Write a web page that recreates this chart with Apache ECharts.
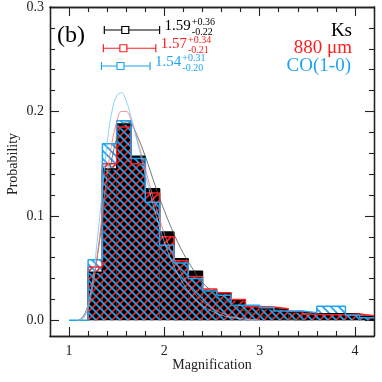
<!DOCTYPE html>
<html>
<head>
<meta charset="utf-8">
<script src="https://cdn.jsdelivr.net/npm/echarts@6/dist/echarts.min.js"></script>
<style>
  html, body { margin: 0; padding: 0; background: #fff; }
  #chart { width: 382px; height: 382px; }
</style>
</head>
<body>
<div id="chart"></div>
<script>
// histogram bins (magnification)
const binEdges = [1.2, 1.35, 1.5, 1.65, 1.8, 1.95, 2.1, 2.25, 2.4, 2.55, 2.7,
  2.85, 3.0, 3.15, 3.3, 3.45, 3.6, 3.75, 3.9, 4.05, 4.2];
const ksProb = [0.046, 0.145, 0.188, 0.157, 0.126, 0.0845, 0.059, 0.047, 0.028, 0.026,
  0.0195, 0.0138, 0.011, 0.0105, 0.008, 0.0064, 0.0064, 0.0064, 0.0064, 0.004];
const mmProb = [0.051, 0.150, 0.185, 0.150, 0.122, 0.080, 0.057, 0.042, 0.030, 0.0265,
  0.020, 0.013, 0.0128, 0.011, 0.0085, 0.0058, 0.0054, 0.0054, 0.006, 0.0045];
const coProb = [0.058, 0.169, 0.191, 0.155, 0.113, 0.072, 0.055, 0.040, 0.028, 0.024,
  0.0144, 0.0144, 0.012, 0.009, 0.0089, 0.0073, 0.0134, 0.0134, 0.0048, 0.0025];
const coZeroFrom = 1.0;

// fitted curves
const ksFit = [[1.1, 0], [1.15, 0.004], [1.2, 0.015], [1.25, 0.035], [1.3, 0.063], [1.35, 0.097],
  [1.4, 0.128], [1.45, 0.155], [1.5, 0.174], [1.55, 0.185], [1.6, 0.19], [1.65, 0.188],
  [1.7, 0.18], [1.8, 0.157], [1.9, 0.13], [2.0, 0.105], [2.1, 0.083], [2.2, 0.064],
  [2.3, 0.049], [2.4, 0.036], [2.5, 0.028], [2.6, 0.021], [2.8, 0.011], [3.0, 0.005], [3.2, 0.002], [3.5, 0]];
const mmFit = [[1.1, 0], [1.15, 0.002], [1.2, 0.012], [1.25, 0.033], [1.3, 0.065], [1.35, 0.103],
  [1.4, 0.14], [1.45, 0.17], [1.5, 0.19], [1.55, 0.2], [1.6, 0.2], [1.65, 0.192],
  [1.7, 0.178], [1.8, 0.145], [1.9, 0.112], [2.0, 0.083], [2.1, 0.06], [2.2, 0.042],
  [2.3, 0.028], [2.4, 0.018], [2.6, 0.007], [2.8, 0.002], [3.0, 0.0005]];
const coFit = [[1.1, 0], [1.15, 0.002], [1.2, 0.015], [1.25, 0.04], [1.3, 0.08], [1.35, 0.125],
  [1.4, 0.17], [1.45, 0.2], [1.5, 0.215], [1.55, 0.218], [1.6, 0.21], [1.65, 0.195],
  [1.7, 0.177], [1.8, 0.14], [1.9, 0.105], [2.0, 0.075], [2.1, 0.052], [2.2, 0.035],
  [2.3, 0.022], [2.4, 0.014], [2.6, 0.005], [2.8, 0.0015], [3.0, 0]];

// median magnification with errors
const medians = [1.59, 1.57, 1.54];
const errPlus = [0.36, 0.34, 0.31];
const errMinus = [0.22, 0.21, 0.20];
const bandNames = ['Ks', '880 μm', 'CO(1-0)'];

const xMajor = [1, 2, 3, 4];
const xMinor = [1.2, 1.4, 1.6, 1.8, 2.2, 2.4, 2.6, 2.8, 3.2, 3.4, 3.6, 3.8, 4.2];
const yMajor = [0, 0.1, 0.2, 0.3];
const yMinor = [0.02, 0.04, 0.06, 0.08, 0.12, 0.14, 0.16, 0.18, 0.22, 0.24, 0.26, 0.28];

const FONT = '"Liberation Serif", "DejaVu Serif", serif';
const RED = '#ff1e1e';
const BLUE = '#1ea4f2';
const colors = ['#000000', RED, BLUE];
const errRowY = [0.278, 0.2605, 0.2435];

function hatch(color, dir) {
  const s = 8;
  const c = document.createElement('canvas');
  c.width = s; c.height = s;
  const g = c.getContext('2d');
  g.strokeStyle = color;
  g.lineWidth = 1.7;
  g.beginPath();
  if (dir > 0) { // "/"
    g.moveTo(-2, s + 2); g.lineTo(s + 2, -2);
    g.moveTo(-2, 2); g.lineTo(2, -2);
    g.moveTo(s - 2, s + 2); g.lineTo(s + 2, s - 2);
  } else { // "\"
    g.moveTo(-2, -2); g.lineTo(s + 2, s + 2);
    g.moveTo(s - 2, -2); g.lineTo(s + 2, 2);
    g.moveTo(-2, s - 2); g.lineTo(2, s + 2);
  }
  g.stroke();
  return { image: c, repeat: 'repeat' };
}

function barData(prob) {
  return prob.map((p, i) => [binEdges[i], binEdges[i + 1], p]);
}
function stepData(prob, from) {
  const d = [];
  if (from !== undefined) d.push([from, 0]);
  d.push([binEdges[0], 0]);
  prob.forEach((p, i) => d.push([binEdges[i], p]));
  d.push([binEdges[binEdges.length - 1], prob[prob.length - 1]]);
  return d;
}

function barSeries(prob, fill) {
  return {
    type: 'custom',
    data: barData(prob),
    silent: true,
    renderItem: function (params, api) {
      const a = api.coord([api.value(0), api.value(2)]);
      const b = api.coord([api.value(1), 0]);
      return {
        type: 'rect',
        shape: { x: a[0], y: a[1], width: b[0] - a[0], height: b[1] - a[1] },
        style: { fill: fill, stroke: null }
      };
    }
  };
}
function outline(prob, color, from) {
  return {
    type: 'line', step: 'end', data: stepData(prob, from), symbol: 'none', silent: true,
    lineStyle: { color: color, width: 1.5 }
  };
}
function fitLine(pts, color) {
  return {
    type: 'line', data: pts, smooth: 0.4, symbol: 'none', silent: true,
    lineStyle: { color: color, width: 0.8 }
  };
}

const measure = document.createElement('canvas').getContext('2d');
function textW(txt, size) {
  measure.font = size + 'px ' + FONT;
  return measure.measureText(txt).width;
}

const errSeries = {
  type: 'custom',
  silent: true,
  data: medians.map((m, i) => [m, m - errMinus[i], m + errPlus[i], errRowY[i], i]),
  renderItem: function (params, api) {
    const i = api.value(4);
    const col = colors[i];
    const y = api.value(3);
    const lo = api.coord([api.value(1), y]);
    const hi = api.coord([api.value(2), y]);
    const mid = api.coord([api.value(0), y]);
    const ls = { stroke: col, lineWidth: 1.2, fill: null };
    const main = medians[i].toFixed(2);
    const tx = hi[0] + 5;
    const mw = textW(main, 15);
    return {
      type: 'group',
      children: [
        { type: 'line', shape: { x1: lo[0], y1: lo[1], x2: hi[0], y2: hi[1] }, style: ls },
        { type: 'line', shape: { x1: lo[0], y1: lo[1] - 4, x2: lo[0], y2: lo[1] + 4 }, style: ls },
        { type: 'line', shape: { x1: hi[0], y1: hi[1] - 4, x2: hi[0], y2: hi[1] + 4 }, style: ls },
        { type: 'rect', shape: { x: mid[0] - 3.5, y: mid[1] - 3.5, width: 7, height: 7 },
          style: { stroke: col, lineWidth: 1.2, fill: '#fff' } },
        { type: 'text', style: { text: main, x: tx, y: mid[1] - 4, fill: col, font: '15px ' + FONT,
          textAlign: 'left', align: 'left', textVerticalAlign: 'middle', verticalAlign: 'middle' } },
        { type: 'text', style: { text: '+' + errPlus[i].toFixed(2), x: tx + mw + 1, y: mid[1] - 7.5, fill: col,
          font: '10px ' + FONT, textAlign: 'left', align: 'left', textVerticalAlign: 'middle', verticalAlign: 'middle' } },
        { type: 'text', style: { text: '-' + errMinus[i].toFixed(2), x: tx + mw + 1, y: mid[1] + 2, fill: col,
          font: '10px ' + FONT, textAlign: 'left', align: 'left', textVerticalAlign: 'middle', verticalAlign: 'middle' } }
      ]
    };
  }
};

function xAxis(pos, ticks, len, labels) {
  return {
    type: 'value', position: pos, min: 0.8, max: 4.2,
    axisLine: { show: true, onZero: false, lineStyle: { color: '#222', width: 1.3 } },
    axisTick: { show: true, inside: true, length: len, customValues: ticks, lineStyle: { color: '#222', width: 1.1 } },
    axisLabel: { show: labels, customValues: ticks, color: '#222', fontSize: 14, fontFamily: FONT, margin: 8 },
    splitLine: { show: false }
  };
}
function yAxis(pos, ticks, len, labels) {
  return {
    type: 'value', position: pos, min: -0.015, max: 0.3,
    axisLine: { show: true, onZero: false, lineStyle: { color: '#222', width: 1.3 } },
    axisTick: { show: true, inside: true, length: len, customValues: ticks, lineStyle: { color: '#222', width: 1.1 } },
    axisLabel: { show: labels, customValues: ticks, color: '#222', fontSize: 14, fontFamily: FONT, margin: 6,
      formatter: v => v.toFixed(1) },
    splitLine: { show: false }
  };
}

function label(text, x, y, size, color, align, rot) {
  return {
    type: 'text', x: x, y: y, rotation: rot || 0,
    style: { text: text, font: size + 'px ' + FONT, fill: color, textAlign: align, align: align,
      textVerticalAlign: 'middle', verticalAlign: 'middle' }
  };
}

const chart = echarts.init(document.getElementById('chart'));
chart.setOption({
  animation: false,
  backgroundColor: '#fff',
  grid: { left: 50, right: 8, top: 7, bottom: 46 },
  xAxis: [
    xAxis('bottom', xMajor, 9, true), xAxis('bottom', xMinor, 5, false),
    xAxis('top', xMajor, 9, false), xAxis('top', xMinor, 5, false)
  ],
  yAxis: [
    yAxis('left', yMajor, 9, true), yAxis('left', yMinor, 5, false),
    yAxis('right', yMajor, 9, false), yAxis('right', yMinor, 5, false)
  ],
  series: [
    barSeries(ksProb, '#000'),
    barSeries(mmProb, hatch(RED, 1)),
    barSeries(coProb, hatch(BLUE, -1)),
    outline(ksProb, '#000'),
    outline(mmProb, RED),
    outline(coProb, BLUE, coZeroFrom),
    fitLine(ksFit, '#555'),
    fitLine(mmFit, '#f47070'),
    fitLine(coFit, '#6cc6f8'),
    errSeries
  ],
  graphic: [
    label('(b)', 57, 36, 24, '#000', 'left'),
    label(bandNames[0], 352, 31, 19, '#000', 'right'),
    label(bandNames[1], 352, 48, 19, RED, 'right'),
    label(bandNames[2], 351, 66, 19, BLUE, 'right'),
    label('Magnification', 212, 365, 14, '#222', 'center'),
    label('Probability', 13, 164, 14, '#222', 'center', Math.PI / 2)
  ]
});
</script>
</body>
</html>
